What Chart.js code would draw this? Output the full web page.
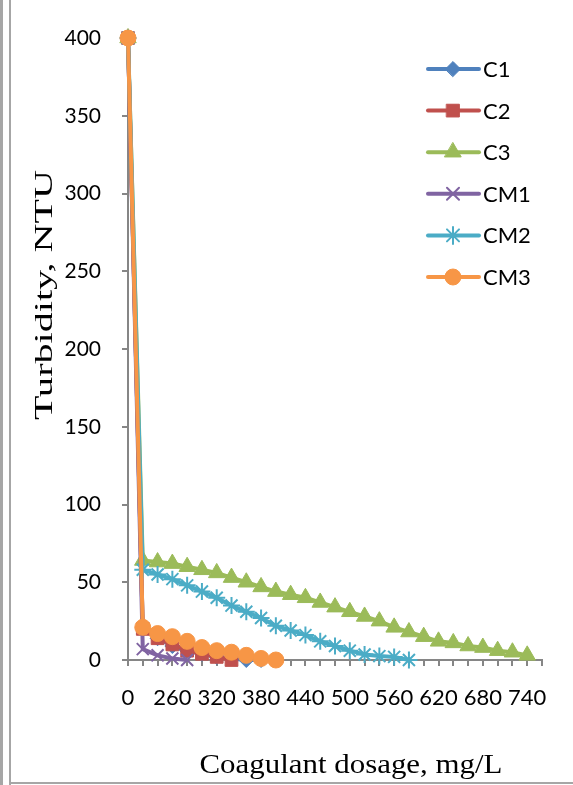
<!DOCTYPE html>
<html>
<head>
<meta charset="utf-8">
<title>Turbidity vs coagulant dosage</title>
<script src="https://cdn.jsdelivr.net/npm/chart.js@4.4.0/dist/chart.umd.min.js"></script>
<style>
  html, body { margin: 0; padding: 0; background: #fff; }
  #wrap { position: relative; width: 573px; height: 785px; overflow: hidden; }
  #chart { position: absolute; left: 0; top: 0; }
  .rule { position: absolute; background: #a6a6a6; }
</style>
</head>
<body>
<div id="wrap">
  <canvas id="chart" width="573" height="785"></canvas>
  <div class="rule" style="left:0;top:0;width:3px;height:785px"></div>
  <div class="rule" style="left:9px;top:0;width:2px;height:785px"></div>
  <div class="rule" style="left:9px;top:782px;width:564px;height:2px"></div>
</div>
<script>
// x categories (mg/L), as in the source sheet
const dosage = [0, 220, 240, 260, 280, 300, 320, 340, 360, 380, 400, 420, 440, 460, 480,
  500, 520, 540, 560, 580, 600, 620, 640, 660, 680, 700, 720, 740, 760];

// turbidity, NTU
const c1 = [400, 20, 14, 9, 6, 4, 2, 1, 0, 0];
const c2 = [400, 20, 14, 10, 6, 4, 2, 0];
const c3 = [400, 64, 63, 62, 60, 58, 56, 53, 50, 47, 44, 42, 40, 37, 34, 31, 28, 25, 21, 18,
  15, 12, 11, 9, 8, 6, 5, 3];
const cm1 = [400, 7, 3, 1, 0];
const cm2 = [400, 58, 55, 52, 48, 44, 40, 35, 31, 27, 22, 19, 16, 12, 9, 6, 3.5, 2.5, 2, 0];
const cm3 = [400, 21, 17, 15, 12, 8, 6, 5, 3, 1, 0];

const yTicks = { min: 0, max: 400, step: 50 };
const xTitle = 'Coagulant dosage, mg/L';
const yTitle = 'Turbidity, NTU';

Chart.defaults.font.family = 'Lato';
Chart.defaults.color = '#000';

const series = (label, data, color, style, radius, order) => ({
  label,
  data,
  order,
  borderColor: color,
  backgroundColor: color,
  borderWidth: 4,
  pointStyle: style,
  pointRadius: radius,
  pointHoverRadius: radius,
  pointBackgroundColor: color,
  pointBorderColor: color,
  pointBorderWidth: (style === 'crossRot' || style === 'star') ? 2 : 1,
  tension: 0,
  clip: false,
});

// legend with line + marker like Excel, plus the two axis titles
const excelBits = {
  id: 'excelBits',
  afterDraw(chart) {
    const ctx = chart.ctx;
    ctx.save();
    chart.data.datasets.forEach((ds, i) => {
      const y = 69 + i * 41.6;
      ctx.strokeStyle = ds.borderColor;
      ctx.lineWidth = ds.borderWidth;
      ctx.lineCap = 'round';
      ctx.beginPath();
      ctx.moveTo(428, y);
      ctx.lineTo(479, y);
      ctx.stroke();
      ctx.fillStyle = ds.pointBackgroundColor;
      ctx.strokeStyle = ds.pointBorderColor;
      ctx.lineWidth = ds.pointBorderWidth;
      Chart.helpers.drawPoint(ctx, {
        pointStyle: ds.pointStyle,
        radius: ds.pointRadius,
        rotation: 0,
        borderWidth: ds.pointBorderWidth,
      }, 453, y);
      ctx.fillStyle = '#000';
      ctx.font = '22px Lato';
      ctx.textAlign = 'left';
      ctx.textBaseline = 'middle';
      ctx.fillText(ds.label, 483, y + 1);
    });
    ctx.restore();

    ctx.save();
    ctx.fillStyle = '#000';
    ctx.font = '26px "Liberation Serif"';
    ctx.textAlign = 'center';
    ctx.textBaseline = 'alphabetic';
    ctx.translate(52, 295);
    ctx.rotate(-Math.PI / 2);
    const wy = ctx.measureText(yTitle).width;
    ctx.scale(250 / wy, 1);
    ctx.fillText(yTitle, 0, 0);
    ctx.restore();

    ctx.save();
    ctx.fillStyle = '#000';
    ctx.font = '27px "Liberation Serif"';
    ctx.textAlign = 'center';
    ctx.textBaseline = 'alphabetic';
    ctx.translate(351, 773);
    const wx = ctx.measureText(xTitle).width;
    ctx.scale(303 / wx, 1);
    ctx.fillText(xTitle, 0, 0);
    ctx.restore();
  },
};

new Chart(document.getElementById('chart'), {
  type: 'line',
  data: {
    labels: dosage,
    datasets: [
      series('C1', c1, '#4F81BD', 'rectRot', 7.5, 6),
      series('C2', c2, '#C0504D', 'rect', 9, 5),
      series('C3', c3, '#9BBB59', 'triangle', 9.5, 4),
      series('CM1', cm1, '#8064A2', 'crossRot', 8.5, 3),
      series('CM2', cm2, '#4BACC6', 'star', 8.5, 2),
      series('CM3', cm3, '#F79646', 'circle', 8, 1),
    ],
  },
  options: {
    responsive: false,
    animation: false,
    layout: { padding: { left: 0, right: 31, top: 38, bottom: 0 } },
    plugins: {
      legend: { display: false },
      tooltip: { enabled: false },
    },
    scales: {
      x: {
        type: 'category',
        offset: false,
        afterFit: (scale) => { scale.height = 125; },
        border: { display: true, color: '#868686', width: 2 },
        grid: {
          display: true,
          drawOnChartArea: false,
          drawTicks: true,
          tickLength: 6,
          color: '#868686',
          lineWidth: 2,
        },
        ticks: {
          autoSkip: false,
          maxRotation: 0,
          padding: 19,
          font: { size: 22 },
          callback: (value, index) => (index % 3 === 0 ? String(dosage[index]) : ''),
        },
      },
      y: {
        min: yTicks.min,
        max: yTicks.max,
        afterFit: (scale) => { scale.width = 128; },
        border: { display: true, color: '#868686', width: 2 },
        grid: {
          display: true,
          drawOnChartArea: false,
          drawTicks: true,
          tickLength: 6,
          color: '#868686',
          lineWidth: 2,
        },
        ticks: {
          stepSize: yTicks.step,
          padding: 21,
          font: { size: 21 },
        },
      },
    },
  },
  plugins: [excelBits],
});
</script>
</body>
</html>
